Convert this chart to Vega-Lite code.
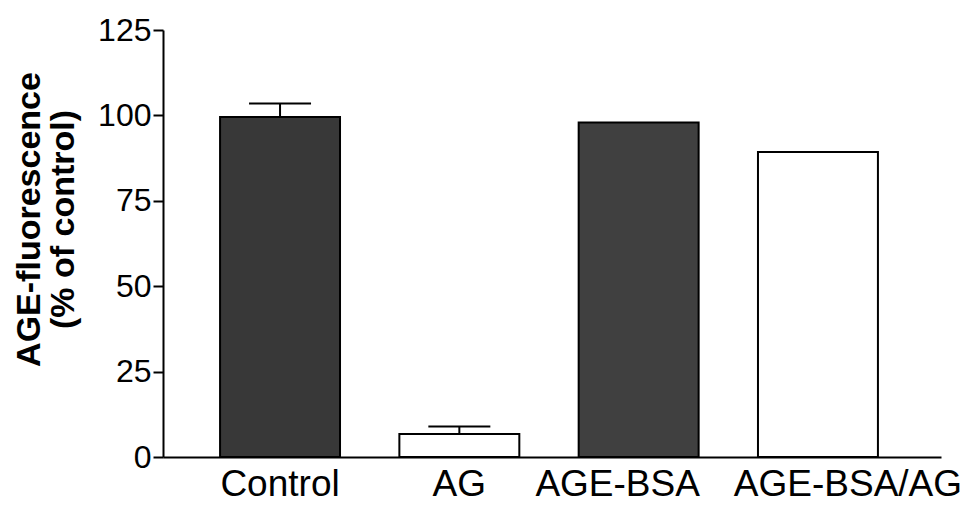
{
  "$schema": "https://vega.github.io/schema/vega-lite/v6.json",
  "width": 778,
  "height": 427,
  "autosize": {"type": "none"},
  "padding": {"left": 163, "top": 30, "right": 26, "bottom": 56},
  "background": "white",
  "config": {"view": {"stroke": null}, "font": "Liberation Sans"},
  "data": {
    "values": [
      {"group": "Control", "value": 99.5, "err": 103.5},
      {"group": "AG", "value": 6.7, "err": 8.9},
      {"group": "AGE-BSA", "value": 97.9, "err": null},
      {"group": "AGE-BSA/AG", "value": 89.3, "err": null}
    ]
  },
  "encoding": {
    "x": {
      "field": "group",
      "type": "nominal",
      "sort": null,
      "scale": {"paddingInner": 0.331, "paddingOuter": 0.335, "align": 0.475},
      "axis": {
        "title": null,
        "labelAngle": 0,
        "labelFontSize": 37,
        "labelFont": "Liberation Sans",
        "labelColor": "black",
        "labelPadding": 9,
        "labelLimit": 0,
        "labelOverlap": false,
        "labelOffset": {"expr": "datum.value == 'AGE-BSA' ? -21 : (datum.value == 'AGE-BSA/AG' ? 30 : 0)"},
        "ticks": false,
        "domainColor": "black",
        "domainWidth": 2
      }
    }
  },
  "layer": [
    {
      "mark": {"type": "bar", "stroke": "black", "strokeWidth": 2},
      "encoding": {
        "y": {
          "field": "value",
          "type": "quantitative",
          "scale": {"domain": [0, 125], "nice": false},
          "axis": {
            "values": [0, 25, 50, 75, 100, 125],
            "grid": false,
            "labelFontSize": 32,
            "labelFont": "Liberation Sans",
            "labelColor": "black",
            "labelPadding": 2,
            "tickSize": 10,
            "tickWidth": 2,
            "tickColor": "black",
            "domainColor": "black",
            "domainWidth": 2,
            "title": ["AGE-fluorescence", "(% of control)"],
            "titleFont": "Liberation Sans",
            "titleFontSize": 34,
            "titleFontWeight": "bold",
            "titleColor": "black",
            "titleLineHeight": 34,
            "titleBaseline": "middle",
            "titleAlign": "center",
            "titleAngle": -90,
            "titleX": -134,
            "titleY": 189
          }
        },
        "fill": {
          "field": "group",
          "type": "nominal",
          "scale": {
            "domain": ["Control", "AG", "AGE-BSA", "AGE-BSA/AG"],
            "range": ["#383838", "#ffffff", "#404040", "#ffffff"]
          },
          "legend": null
        }
      }
    },
    {
      "transform": [{"filter": "datum.err != null"}],
      "mark": {"type": "rule", "stroke": "black", "strokeWidth": 2},
      "encoding": {
        "y": {"field": "value", "type": "quantitative"},
        "y2": {"field": "err"}
      }
    },
    {
      "transform": [{"filter": "datum.err != null"}],
      "mark": {"type": "tick", "color": "black", "size": 62, "thickness": 2, "opacity": 1},
      "encoding": {
        "y": {"field": "err", "type": "quantitative"}
      }
    }
  ]
}
